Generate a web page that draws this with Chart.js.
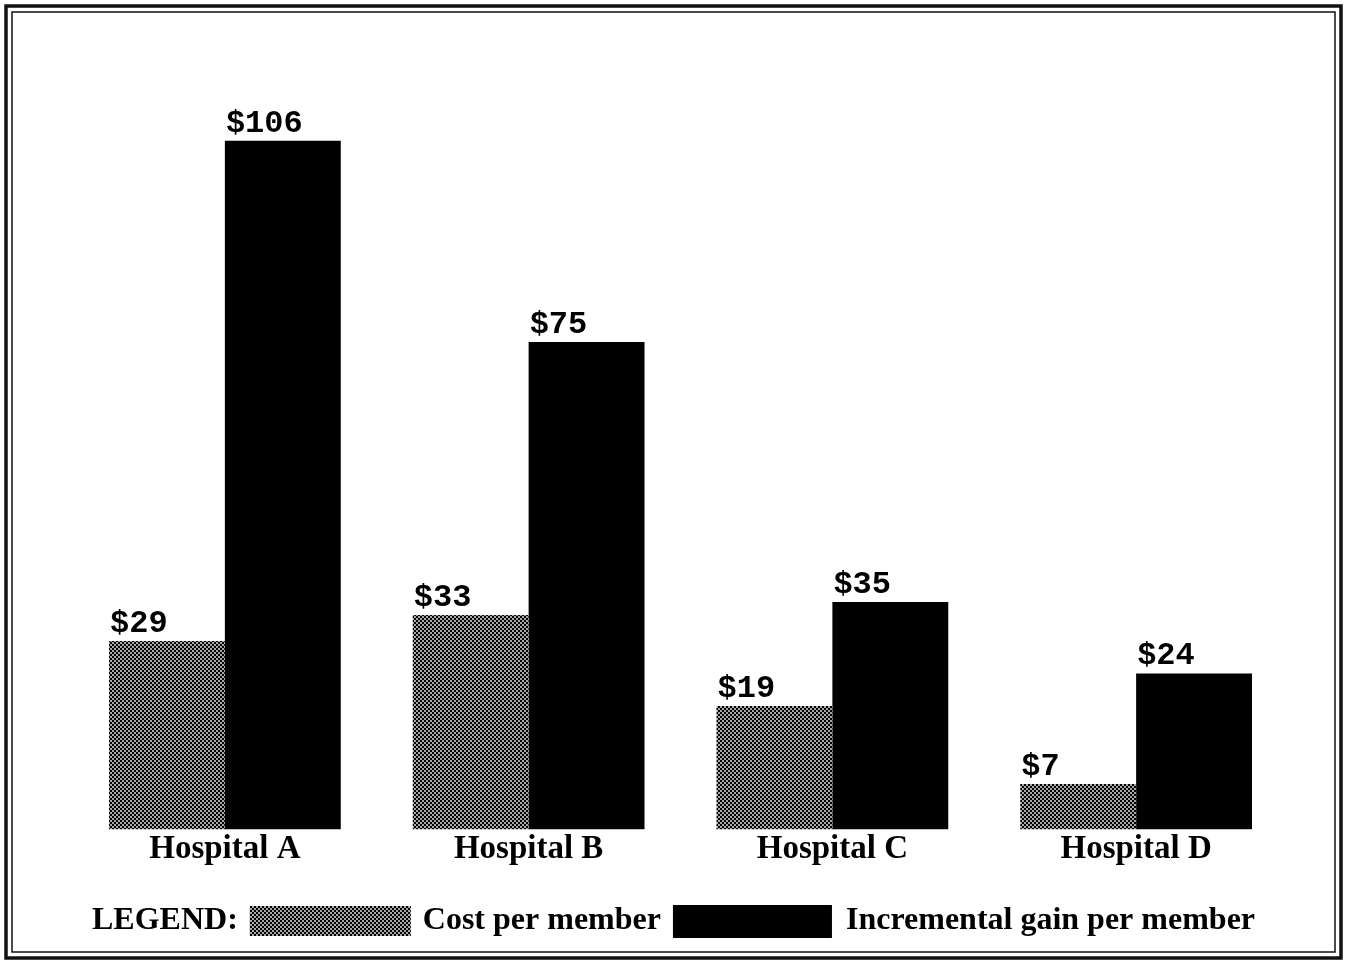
<!DOCTYPE html>
<html>
<head>
<meta charset="utf-8">
<script src="https://cdn.jsdelivr.net/npm/chart.js@4/dist/chart.umd.min.js"></script>
<style>
  html, body { margin: 0; padding: 0; background: #fff; }
  canvas { display: block; }
</style>
</head>
<body>
<canvas id="chart" width="1346" height="962"></canvas>
<script>
const categories = ["Hospital A", "Hospital B", "Hospital C", "Hospital D"];
const costPerMember = [29, 33, 19, 7];
const gainPerMember = [106, 75, 35, 24];
const seriesNames = ["Cost per member", "Incremental gain per member"];

const SERIF = "bold 32px 'Liberation Serif', 'Times New Roman', serif";
const MONO = "bold 32px 'Liberation Mono', 'Courier New', monospace";

// halftone-like checker fill for the cost bars
function makeChecker() {
  const c = document.createElement("canvas");
  c.width = 4;
  c.height = 4;
  const g = c.getContext("2d");
  g.fillStyle = "#a8a8a8";
  g.fillRect(0, 0, 4, 4);
  g.fillStyle = "#000";
  g.fillRect(0, 0, 2, 2);
  g.fillRect(2, 2, 2, 2);
  return g.createPattern(c, "repeat");
}
const checker = makeChecker();

const frame = {
  id: "frame",
  beforeDraw(chart) {
    const ctx = chart.ctx;
    ctx.save();
    ctx.fillStyle = "#fff";
    ctx.fillRect(0, 0, chart.width, chart.height);
    ctx.strokeStyle = "#111";
    ctx.lineWidth = 3.5;
    ctx.strokeRect(6, 6, chart.width - 11, chart.height - 10);
    ctx.lineWidth = 1.5;
    ctx.strokeRect(12, 12, chart.width - 23, chart.height - 22);
    ctx.restore();
  },
};

const valueLabels = {
  id: "valueLabels",
  afterDatasetsDraw(chart) {
    const ctx = chart.ctx;
    ctx.save();
    ctx.font = MONO;
    ctx.fillStyle = "#000";
    ctx.textAlign = "left";
    ctx.textBaseline = "alphabetic";
    chart.data.datasets.forEach((ds, di) => {
      chart.getDatasetMeta(di).data.forEach((bar, i) => {
        const left = bar.x - bar.width / 2;
        ctx.fillText("$" + ds.data[i], left + 1, bar.y - 9);
      });
    });
    ctx.restore();
  },
};

const bottomLegend = {
  id: "bottomLegend",
  afterDraw(chart) {
    const ctx = chart.ctx;
    const y = 921;
    ctx.save();
    ctx.font = SERIF;
    ctx.fillStyle = "#000";
    ctx.textBaseline = "middle";
    let x = 92;
    ctx.fillText("LEGEND:", x, y);
    x += ctx.measureText("LEGEND:").width + 12;
    ctx.fillStyle = checker;
    ctx.fillRect(x, y - 15, 161, 30);
    x += 161 + 12;
    ctx.fillStyle = "#000";
    ctx.fillText(seriesNames[0], x, y);
    x += ctx.measureText(seriesNames[0]).width + 12;
    ctx.fillRect(x, y - 16, 159, 33);
    x += 159 + 14;
    ctx.fillText(seriesNames[1], x, y);
    ctx.restore();
  },
};

new Chart(document.getElementById("chart"), {
  type: "bar",
  data: {
    labels: categories,
    datasets: [
      {
        label: seriesNames[0],
        data: costPerMember,
        backgroundColor: checker,
        borderWidth: 0,
      },
      {
        label: seriesNames[1],
        data: gainPerMember,
        backgroundColor: "#000",
        borderWidth: 0,
      },
    ],
  },
  options: {
    responsive: false,
    animation: false,
    layout: {
      padding: { left: 73, right: 58, top: 40, bottom: 93 },
    },
    datasets: {
      bar: {
        categoryPercentage: 0.763,
        barPercentage: 1,
      },
    },
    scales: {
      x: {
        grid: { display: false, drawTicks: false },
        border: { display: false },
        ticks: {
          padding: 0,
          color: "#000",
          font: { family: "'Liberation Serif', 'Times New Roman', serif", size: 33, weight: "bold" },
        },
      },
      y: {
        display: false,
        min: 0,
        max: 121.5,
      },
    },
    plugins: {
      legend: { display: false },
      tooltip: { enabled: false },
    },
  },
  plugins: [frame, valueLabels, bottomLegend],
});
</script>
</body>
</html>
